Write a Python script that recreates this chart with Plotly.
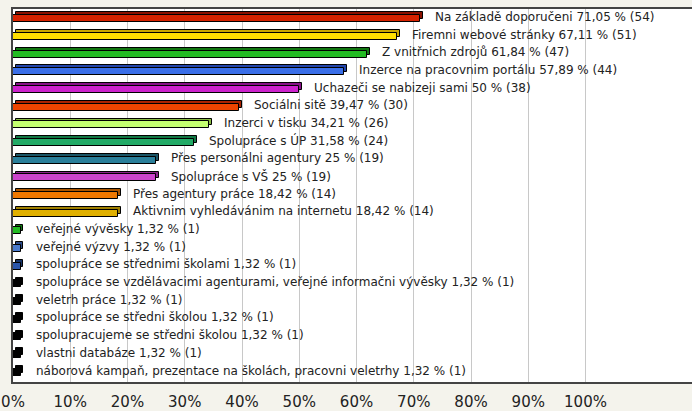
import plotly.graph_objects as go

categories = [
    "Na základě doporučeni",
    "Firemni webové stránky",
    "Z vnitřnich zdrojů",
    "Inzerce na pracovnim portálu",
    "Uchazeči se nabizeji sami",
    "Sociálni sitě",
    "Inzerci v tisku",
    "Spolupráce s ÚP",
    "Přes personálni agentury",
    "Spolupráce s VŠ",
    "Přes agentury práce",
    "Aktivnim vyhledávánim na internetu",
    "veřejné vývěsky",
    "veřejné výzvy",
    "spolupráce se střednimi školami",
    "spolupráce se vzdělávacimi agenturami, veřejné informačni vývěsky",
    "veletrh práce",
    "spolupráce se středni školou",
    "spolupracujeme se středni školou",
    "vlastni databáze",
    "náborová kampaň, prezentace na školách, pracovni veletrhy",
]
percents = [71.05, 67.11, 61.84, 57.89, 50, 39.47, 34.21, 31.58, 25, 25, 18.42, 18.42,
            1.32, 1.32, 1.32, 1.32, 1.32, 1.32, 1.32, 1.32, 1.32]
counts = [54, 51, 47, 44, 38, 30, 26, 24, 19, 19, 14, 14, 1, 1, 1, 1, 1, 1, 1, 1, 1]
tick_values = [0, 10, 20, 30, 40, 50, 60, 70, 80, 90, 100]
tick_labels = [f"{v}%" for v in tick_values]

front_colors = ["#d42200", "#ffe000", "#22bb22", "#3a6ee8", "#cc22cc", "#ee4400",
                "#c4ff70", "#22aa66", "#2a7f9a", "#cc44cc", "#f07800", "#e0b000",
                "#22bb22", "#4a7acc", "#2a55aa",
                "#000000", "#000000", "#000000", "#000000", "#000000", "#000000"]
top_colors = ["#8a1000", "#c8a800", "#117711", "#2244aa", "#881188", "#aa2200",
              "#88bb44", "#117744", "#1a5566", "#882288", "#aa5500", "#a08000",
              "#117711", "#2a4a88", "#163366",
              "#000000", "#000000", "#000000", "#000000", "#000000", "#000000"]


def fmt(v):
    s = ("%.2f" % v).rstrip("0").rstrip(".")
    return s.replace(".", ",")


labels = [f"{c} {fmt(p)} % ({n})" for c, p, n in zip(categories, percents, counts)]
ypos = list(range(len(categories)))

fig = go.Figure()
# depth (3D top/side) bar
fig.add_trace(go.Bar(
    x=percents, y=[y - 0.16 for y in ypos], base=0.5, orientation="h", width=0.39,
    marker=dict(color=top_colors, line=dict(color="#000000", width=1)),
    hoverinfo="skip", showlegend=False,
))
# front bar
fig.add_trace(go.Bar(
    x=percents, y=ypos, orientation="h", width=0.39,
    marker=dict(color=front_colors, line=dict(color="#000000", width=1)),
    showlegend=False, text=labels, hoverinfo="text", textposition="none",
))

for y, p, lab in zip(ypos, percents, labels):
    fig.add_annotation(x=p, y=y - 0.1, text=lab, showarrow=False, xanchor="left",
                       yanchor="middle", xshift=13,
                       font=dict(family="DejaVu Sans", size=12, color="#222222"))

fig.update_layout(
    width=692, height=411,
    margin=dict(l=13, r=0, t=9, b=24),
    paper_bgcolor="#f4f3ec", plot_bgcolor="#ffffff",
    barmode="overlay", bargap=0,
    xaxis=dict(range=[0, 118.6], tickvals=tick_values, ticktext=tick_labels,
               showgrid=True, gridcolor="#c8c8c8", gridwidth=1, zeroline=False,
               showline=True, linecolor="#444444", linewidth=2, mirror=True,
               ticks="outside", ticklen=5, tickcolor="rgba(0,0,0,0)",
               tickfont=dict(family="DejaVu Sans", size=15, color="#222222"),
               fixedrange=True),
    yaxis=dict(range=[20.55, -0.55], showticklabels=False, showgrid=False,
               zeroline=False, showline=True, linecolor="#444444", linewidth=2,
               fixedrange=True),
    font=dict(family="DejaVu Sans"),
)

fig.write_html(
    "out.html",
    config={"displayModeBar": False},
    post_script="document.body.style.margin='0';document.body.style.overflow='hidden';"
                "document.body.style.background='#f4f3ec';",
)
